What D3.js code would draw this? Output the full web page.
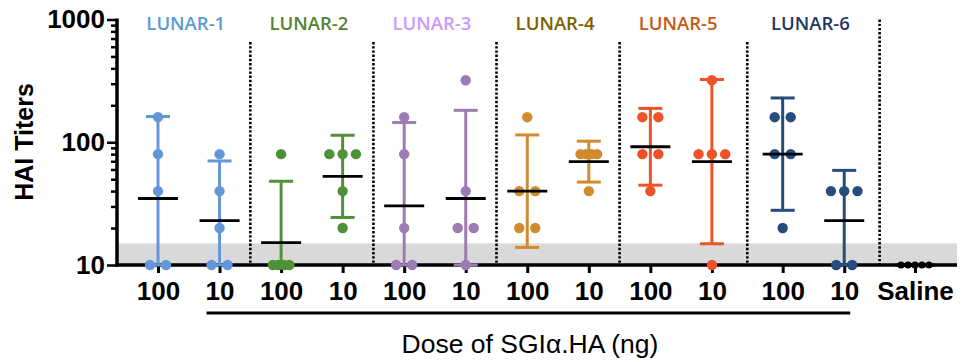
<!DOCTYPE html>
<html>
<head>
<meta charset="utf-8">
<script src="https://cdn.jsdelivr.net/npm/d3@7"></script>
<style>
  body { margin: 0; background: #fff; }
  svg { display: block; }
</style>
</head>
<body>
<script>
// HAI titers per LUNAR group, geometric mean +/- 95% CI, log y axis

var groups = ["LUNAR-1", "LUNAR-2", "LUNAR-3", "LUNAR-4", "LUNAR-5", "LUNAR-6"];
var doses = ["100", "10"];
var salineLabel = "Saline";

// individual animals, one list per group/dose column (left to right)
var titers = [
  [160, 80, 40, 10, 10],
  [80, 40, 20, 10, 10],
  [80, 10, 10, 10, 10],
  [80, 80, 80, 40, 20],
  [160, 80, 20, 10, 10],
  [320, 40, 20, 20, 10],
  [160, 40, 40, 20, 20],
  [80, 80, 80, 80, 40],
  [160, 160, 80, 80, 40],
  [320, 80, 80, 80, 10],
  [160, 160, 80, 80, 20],
  [40, 40, 40, 10, 10]
];
var salineTiters = [10, 10, 10, 10, 10];

var geoMeans = [34.8, 23.0, 15.2, 52.8, 30.3, 34.8, 40.0, 69.6, 91.9, 69.6, 80.0, 23.0];
var ciLow  = [7.5, 7.5, 4.8, 24.4, 6.4, 6.6, 13.9, 47.4, 44.7, 14.9, 27.9, 9.0];
var ciHigh = [162, 70.4, 48.1, 114, 144.7, 182, 114.7, 102, 188.7, 324.6, 229.5, 59];
var salineMean = 10;

var yTicks = [10, 100, 1000];
var yMinor = [20, 30, 40, 50, 60, 70, 80, 90, 200, 300, 400, 500, 600, 700, 800, 900];
var lodValue = 15; // grey band = below detection

var pointColors = ["#6497d9", "#4f9136", "#9d7cb3", "#d08b2f", "#ec5326", "#264b7d"];
var labelColors = ["#5b9bd5", "#548235", "#cc99ff", "#7f6000", "#c55a11", "#1f3864"];

var width = 962, height = 362;
var boldFont = "'Liberation Sans', Arial, sans-serif";

var svg = d3.select("body").append("svg")
            .attr("width", width)
            .attr("height", height);

// columns: 12 LUNAR columns then saline; small extra gaps before LUNAR-6 and saline
function slot(i) {
  return i + (i >= 10 ? 0.15 : 0) + (i >= 12 ? 0.15 : 0);
}
var columns = [];
groups.forEach(function (g, gi) {
  doses.forEach(function (d, di) {
    columns.push({ group: gi, dose: d, idx: gi * 2 + di });
  });
});

var x = d3.scaleLinear().domain([0, slot(12)]).range([158, 915]);
var y = d3.scaleLog().domain([10, 1000]).range([265, 19.5]).clamp(true);

var axisLeftX = 117, axisRightX = 957;

// grey band
svg.append("rect")
   .attr("x", axisLeftX)
   .attr("y", y(lodValue))
   .attr("width", axisRightX - axisLeftX)
   .attr("height", y(10) - y(lodValue))
   .style("fill", "#d9d9d9");

// dotted separators between groups
var seps = [];
for (var s = 1; s < 6; s++) seps.push({ pos: (slot(s * 2 - 1) + slot(s * 2)) / 2, top: 42 });
seps.push({ pos: (slot(11) + slot(12)) / 2, top: y(1000) });

svg.selectAll("line.sep")
   .data(seps)
   .enter()
   .append("line")
   .attr("class", "sep")
   .attr("x1", function (d) { return x(d.pos); })
   .attr("x2", function (d) { return x(d.pos); })
   .attr("y1", function (d) { return d.top; })
   .attr("y2", y(10))
   .style("stroke", "#000")
   .style("stroke-width", 2.6)
   .style("stroke-dasharray", "2.4,1.8");

// y axis: major + minor ticks
var yAxis = svg.append("g")
               .attr("transform", "translate(" + axisLeftX + ",0)")
               .call(d3.axisLeft(y).tickValues(yTicks).tickSize(10).tickPadding(2)
                       .tickFormat(d3.format("d")));
yAxis.select(".domain").remove();
yAxis.selectAll("line").style("stroke-width", 2.5);
yAxis.selectAll("text")
     .style("font-family", boldFont)
     .style("font-weight", "bold")
     .style("font-size", "26px")
     .style("fill", "#000");

var yMinorAxis = svg.append("g")
                    .attr("transform", "translate(" + axisLeftX + ",0)")
                    .call(d3.axisLeft(y).tickValues(yMinor).tickSize(6).tickFormat(""));
yMinorAxis.select(".domain").remove();
yMinorAxis.selectAll("line").style("stroke-width", 2.5);

svg.append("line")
   .attr("x1", axisLeftX).attr("x2", axisLeftX)
   .attr("y1", y(1000) - 1).attr("y2", y(10) + 1.5)
   .style("stroke", "#000")
   .style("stroke-width", 3.5);

// x axis
var xTickVals = columns.map(function (c) { return slot(c.idx); }).concat([slot(12)]);
var xTickText = columns.map(function (c) { return c.dose; }).concat([salineLabel]);

var xAxis = svg.append("g")
               .attr("transform", "translate(0," + y(10) + ")")
               .call(d3.axisBottom(x).tickValues(xTickVals).tickSize(8).tickPadding(9)
                       .tickFormat(function (d, i) { return xTickText[i]; }));
xAxis.select(".domain").remove();
xAxis.selectAll("line").style("stroke-width", 3);
xAxis.selectAll("text")
     .style("font-family", boldFont)
     .style("font-weight", "bold")
     .style("font-size", "26px")
     .style("fill", "#000");

svg.append("line")
   .attr("x1", axisLeftX - 1.5).attr("x2", axisRightX)
   .attr("y1", y(10)).attr("y2", y(10))
   .style("stroke", "#000")
   .style("stroke-width", 3.5);

// y title
svg.append("text")
   .attr("transform", "translate(33,142) rotate(-90)")
   .attr("text-anchor", "middle")
   .style("font-family", boldFont)
   .style("font-weight", "bold")
   .style("font-size", "25px")
   .text("HAI Titers");

// group labels
svg.selectAll("text.grp")
   .data(groups)
   .enter()
   .append("text")
   .attr("class", "grp")
   .attr("x", function (d, i) { return x((slot(i * 2) + slot(i * 2 + 1)) / 2) - 3; })
   .attr("y", 29.5)
   .attr("text-anchor", "middle")
   .style("font-family", "'Open Sans', sans-serif")
   .style("font-weight", 600)
   .style("font-size", "18.5px")
   .style("fill", function (d, i) { return labelColors[i]; })
   .text(function (d) { return d; });

// error bars (95% CI)
var bars = svg.selectAll("g.err")
              .data(columns)
              .enter()
              .append("g")
              .attr("class", "err")
              .style("stroke", function (d) { return pointColors[d.group]; })
              .style("stroke-width", 3);

bars.append("line")
    .attr("x1", function (d) { return x(slot(d.idx)); })
    .attr("x2", function (d) { return x(slot(d.idx)); })
    .attr("y1", function (d) { return y(ciLow[d.idx]); })
    .attr("y2", function (d) { return y(ciHigh[d.idx]); });
bars.append("line")
    .attr("x1", function (d) { return x(slot(d.idx)) - 12; })
    .attr("x2", function (d) { return x(slot(d.idx)) + 12; })
    .attr("y1", function (d) { return y(ciHigh[d.idx]); })
    .attr("y2", function (d) { return y(ciHigh[d.idx]); });
bars.append("line")
    .attr("x1", function (d) { return x(slot(d.idx)) - 12; })
    .attr("x2", function (d) { return x(slot(d.idx)) + 12; })
    .attr("y1", function (d) { return y(ciLow[d.idx]); })
    .attr("y2", function (d) { return y(ciLow[d.idx]); });

// spread tied values sideways like the scatter plot does
function spread(vals) {
  var counts = {}, seen = {};
  vals.forEach(function (v) { counts[v] = (counts[v] || 0) + 1; });
  return vals.map(function (v) {
    var n = counts[v], k = seen[v] || 0;
    seen[v] = k + 1;
    var step = n == 2 ? 16 : n == 3 ? 13.3 : n == 4 ? 5.5 : 7;
    return { v: v, off: (k - (n - 1) / 2) * step };
  });
}

var dots = [];
columns.forEach(function (c) {
  spread(titers[c.idx]).forEach(function (p) {
    dots.push({ col: slot(c.idx), v: p.v, off: p.off, color: pointColors[c.group], r: 5.2 });
  });
});
spread(salineTiters).forEach(function (p) {
  dots.push({ col: slot(12), v: p.v, off: p.off, color: "#000", r: 3.6 });
});

svg.selectAll("circle")
   .data(dots)
   .enter()
   .append("circle")
   .attr("cx", function (d) { return x(d.col) + d.off; })
   .attr("cy", function (d) { return y(d.v); })
   .attr("r", function (d) { return d.r; })
   .style("fill", function (d) { return d.color; });

// geometric mean lines
var means = columns.map(function (c) { return { col: slot(c.idx), v: geoMeans[c.idx] }; })
                   .concat([{ col: slot(12), v: salineMean }]);
svg.selectAll("line.mean")
   .data(means)
   .enter()
   .append("line")
   .attr("class", "mean")
   .attr("x1", function (d) { return x(d.col) - 20; })
   .attr("x2", function (d) { return x(d.col) + 20; })
   .attr("y1", function (d) { return y(d.v); })
   .attr("y2", function (d) { return y(d.v); })
   .style("stroke", "#000")
   .style("stroke-width", 2.8);

// dose bracket + label
svg.append("line")
   .attr("x1", x(slot(1)) - 13)
   .attr("x2", x(slot(11)) + 6)
   .attr("y1", 313).attr("y2", 313)
   .style("stroke", "#000")
   .style("stroke-width", 3);

svg.append("text")
   .attr("x", 530)
   .attr("y", 353)
   .attr("text-anchor", "middle")
   .style("font-family", boldFont)
   .style("font-size", "26.5px")
   .text("Dose of SGI\u03b1.HA (ng)");
</script>
</body>
</html>
